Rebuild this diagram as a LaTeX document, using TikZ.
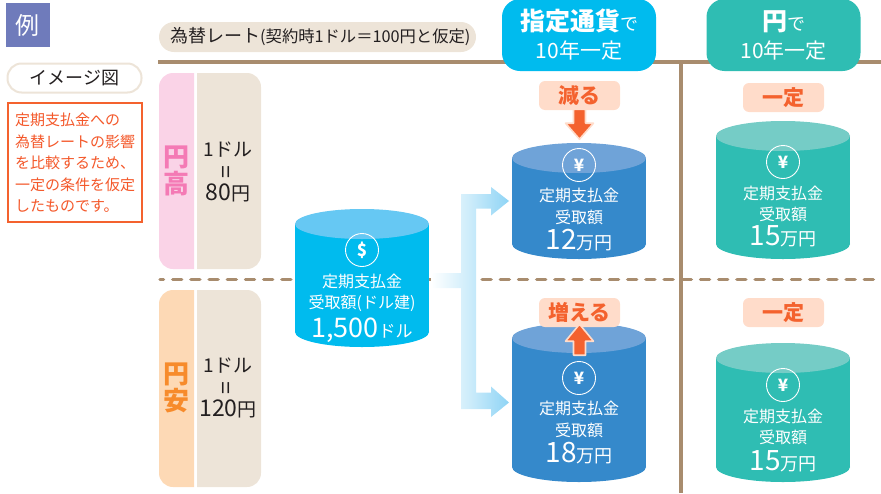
\documentclass[tikz,border=0pt]{standalone}
\usepackage{fontspec}
\setmainfont{Noto Sans CJK JP}
\usetikzlibrary{calc}
\definecolor{rulebrown}{HTML}{A88C6E}
\definecolor{beige}{HTML}{EDE4D8}
\definecolor{reiviolet}{HTML}{6F7BBB}
\definecolor{notered}{HTML}{F4582A}
\definecolor{tagpink}{HTML}{FFDCCA}
\definecolor{tagorange}{HTML}{F4622E}
\definecolor{usdbody}{HTML}{00BBEE}
\definecolor{usdtop}{HTML}{66C8F3}
\definecolor{yenbody}{HTML}{3589CB}
\definecolor{yentop}{HTML}{6FA3D8}
\definecolor{tealbody}{HTML}{2FBDB3}
\definecolor{tealtop}{HTML}{75CCC6}
\definecolor{takapink}{HTML}{FAD3E7}
\definecolor{takatext}{HTML}{F47AB5}
\definecolor{yasuband}{HTML}{FDD9B5}
\definecolor{yasutext}{HTML}{F78B2B}
\definecolor{inktext}{HTML}{231F20}
\definecolor{flowend}{HTML}{8ED4F5}
\newcommand{\fs}[1]{\fontsize{#1}{#1}\selectfont}
% name, centre x, top y, bottom y, body colour, lid colour
\newcommand{\drum}[6]{
    \fill[#5] (#2-67,#3+15) rectangle (#2+67,#4-15);
    \fill[#5] (#2,#4-15) ellipse[x radius=67,y radius=15];
    \fill[#6] (#2,#3+15) ellipse[x radius=67,y radius=15];
    \path (#2-67,#3) rectangle (#2+67,#4) coordinate[pos=0.5] (#1);
    \coordinate (#1west) at (#2-67,{(#3+#4)/2});
    \coordinate (#1east) at (#2+67,{(#3+#4)/2});
}
\tikzset{
  coin/.style={circle,draw=white,line width=0.9pt,minimum size=33pt,inner sep=0pt,text=white,font=\fs{17}\bfseries},
  cyltext/.style={align=center,text=white,inner sep=0pt,font=\fontsize{16}{21.5}\selectfont},
  tagbox/.style={rectangle,rounded corners=6pt,fill=tagpink,minimum width=81pt,minimum height=29pt,inner sep=0pt,
    text=tagorange,font=\fs{21}\bfseries},
  headbox/.style={rectangle,rounded corners=18pt,minimum width=154pt,minimum height=72pt,inner sep=0pt,
    align=center,text=white,font=\fontsize{21}{28}\selectfont},
  ratetext/.style={align=center,text=inktext,inner sep=0pt,font=\fontsize{19}{22}\selectfont},
  bandtext/.style={align=center,inner sep=0pt,font=\fontsize{26}{27}\selectfont\bfseries},
  blockarrow/.style={fill=tagorange,draw=tagpink,line width=1.6pt,line join=round}
}
\begin{document}
\begin{tikzpicture}[x=1pt,y=-1pt]
    \useasboundingbox (0,0) rectangle (881,493);
    % rules
    \draw[rulebrown,line width=4pt] (158,62)--(881,62);
    \draw[rulebrown,line width=3.5pt] (681,62)--(681,493);
    \draw[rulebrown,line width=3.5pt,line cap=round,dash pattern=on 9pt off 9.2pt,dash phase=5.5pt] (160,279.5)--(881,279.5);
    % left column
    \node[fill=reiviolet,minimum size=44pt,inner sep=0pt,text=white,font=\fs{24}] (rei) at (28,25) {例};
    \node[rectangle,rounded corners=14pt,draw=beige,line width=2pt,fill=white,minimum width=134pt,minimum height=29pt,inner sep=0pt,text=inktext,font=\fs{18}] (imagepill) at (74.5,78) {イメージ図};
    \node[rectangle,draw=tagorange,line width=2pt,fill=white,minimum width=134pt,minimum height=119pt,inner sep=0pt] (notebox) at (74.5,162) {};
    \node[anchor=west,inner sep=0pt,text=notered,align=left,font=\fontsize{15}{21.5}\selectfont] (notetext) at (15,163) {定期支払金への\\為替レートの影響\\を比較するため、\\一定の条件を仮定\\したものです。};
    % rate column
    \node[rectangle,rounded corners=15pt,fill=beige,minimum width=317pt,minimum height=30pt,inner sep=0pt] (ratepill) at (317.5,37) {};
    \node[anchor=west,inner sep=0pt,text=inktext,font=\fs{18}] (ratehead) at (170,37) {為替レート{\fs{16.3}(契約時1ドル＝100円と仮定)}};
    \fill[takapink] (194,73)--(194,269)[rounded corners=14pt]--(159,269)--(159,73)[sharp corners]--cycle;
    \fill[beige] (197,73)--(197,269)[rounded corners=14pt]--(261,269)--(261,73)[sharp corners]--cycle;
    \fill[yasuband] (194,290)--(194,487)[rounded corners=14pt]--(159,487)--(159,290)[sharp corners]--cycle;
    \fill[beige] (197,290)--(197,487)[rounded corners=14pt]--(261,487)--(261,290)[sharp corners]--cycle;
    \node[bandtext,text=takatext] (endaka) at (176.5,171) {円\\高};
    \node[bandtext,text=yasutext] (enyasu) at (176.5,388) {円\\安};
    \node[ratetext] (rateup) at (228,172) {1ドル\\\rotatebox[origin=c]{90}{\fs{23}=}\\{\fs{23}80}円};
    \node[ratetext] (ratedown) at (228,388) {1ドル\\\rotatebox[origin=c]{90}{\fs{23}=}\\{\fs{23}120}円};
    % headers
    \node[headbox,fill=usdbody] (headshitei) at (579,35) {{\fs{25}\bfseries 指定通貨}{\fs{18}で}\\10年一定};
    \node[headbox,fill=tealbody] (headyen) at (783.5,35) {{\fs{25}\bfseries 円}{\fs{18}で}\\10年一定};
    % cylinders
    \drum{cylsrc}{362}{209}{347}{usdbody}{usdtop}
    \drum{cylyenup}{579}{143}{259}{yenbody}{yentop}
    \drum{cylyendown}{579}{323}{482}{yenbody}{yentop}
    \drum{cyltealup}{783}{121}{259}{tealbody}{tealtop}
    \drum{cyltealdown}{783}{343}{482}{tealbody}{tealtop}
    % flow
    \shade[left color=white,right color=flowend,middle color=flowend!45!white]
      ($(cylsrceast)+(2,-5)$) -- ++(30,0) -- ++(0,-79) -- ++(30,0) -- ++(0,-7) -- ($(cylyenupwest)+(-3,0)$)
      -- ++(-18,14.5) -- ++(0,-7) -- ++(-15,0) -- ++(0,184) -- ++(15,0) -- ++(0,-6)
      -- ($(cylyendownwest)+(-3,0)$) -- ++(-18,14.5) -- ++(0,-8) -- ++(-30,0) -- ++(0,-121) -- ++(-30,0) -- cycle;
    % coins and labels
    \node[coin] (coinsrc) at (362,250) {\$};
    \node[coin] (coinyenup) at (579,165) {¥};
    \node[coin] (coinyendown) at (579,378) {¥};
    \node[coin] (cointealup) at (783,162) {¥};
    \node[coin] (cointealdown) at (783,385) {¥};
    \node[cyltext] (textsrc) at (362,308) {定期支払金\\受取額(ドル建)\\[5pt]{\fs{27}1,500}{\fs{17}ドル}};
    \node[cyltext] (textyenup) at (579,219.5) {定期支払金\\受取額\\[3pt]{\fs{28}12}{\fs{18}万円}};
    \node[cyltext] (textyendown) at (579,432.5) {定期支払金\\受取額\\[3pt]{\fs{28}18}{\fs{18}万円}};
    \node[cyltext] (texttealup) at (783,216.5) {定期支払金\\受取額\\[3pt]{\fs{28}15}{\fs{18}万円}};
    \node[cyltext] (texttealdown) at (783,440.5) {定期支払金\\受取額\\[5pt]{\fs{28}15}{\fs{18}万円}};
    % tags and arrows
    \node[tagbox] (taggenru) at (579.5,95.5) {減る};
    \node[tagbox] (tagfueru) at (579.5,312.5) {増える};
    \node[tagbox] (tagteiup) at (783.5,97.5) {一定};
    \node[tagbox] (tagteidown) at (783.5,312.5) {一定};
    \draw[blockarrow] (taggenru.south)+(-6,-1) -- ++(6,-1) -- ++(0,14) -- ++(8,0) -- ++(-14,16) -- ++(-14,-16) -- ++(8,0) -- cycle;
    \draw[blockarrow] (tagfueru.south)+(-6,28) -- ++(6,28) -- ++(0,-14) -- ++(8,0) -- ++(-14,-17) -- ++(-14,17) -- ++(8,0) -- cycle;
\end{tikzpicture}
\end{document}
